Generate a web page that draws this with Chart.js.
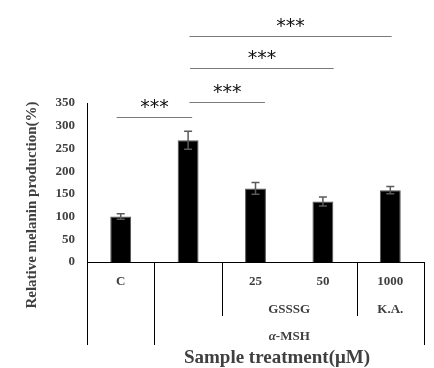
<!DOCTYPE html>
<html>
<head>
<meta charset="utf-8">
<script src="https://cdn.jsdelivr.net/npm/chart.js@4"></script>
<style>
  body { margin: 0; background: #fff; }
  #wrap { width: 434px; height: 368px; }
</style>
</head>
<body>
<div id="wrap"><canvas id="chart"></canvas></div>
<script>
// data
const groups = ['C', 'α-MSH', 'α-MSH + GSSSG 25', 'α-MSH + GSSSG 50', 'α-MSH + K.A. 1000'];
const doseLabels = ['C', '', '25', '50', '1000'];
const melanin = [100, 268, 162, 133, 158];
const errors = [6, 20, 13, 10, 8];
const yTicks = [0, 50, 100, 150, 200, 250, 300, 350];
// rows below the axis: [text, first index, last index]
const treatmentRow = [['GSSSG', 2, 3], ['K.A.', 4, 4]];
const inducerRow = [['α-MSH', 1, 4]];
// separators: [boundary index, depth]
const separators = [[-0.5, 3], [0.5, 3], [1.5, 2], [3.5, 2], [4.5, 3]];
// significance: [from index, to index, level in %]
const brackets = [[-0.06, 1.06, 319], [1.02, 2.14, 353], [1.03, 3.16, 428], [1.02, 4.02, 497]];

const SERIF = 'Liberation Serif';
const TEXT = '#404040';

const extras = {
  id: 'extras',
  afterDatasetsDraw(chart) {
    const { ctx, scales: { x, y } } = chart;
    // error bars
    ctx.save();
    ctx.strokeStyle = '#5a5a5a';
    ctx.lineWidth = 1.5;
    melanin.forEach((v, i) => {
      const px = x.getPixelForValue(i);
      const top = y.getPixelForValue(v + errors[i]);
      const bot = y.getPixelForValue(v - errors[i]);
      ctx.beginPath();
      ctx.moveTo(px, top); ctx.lineTo(px, bot);
      ctx.moveTo(px - 4, top); ctx.lineTo(px + 4, top);
      ctx.moveTo(px - 4, bot); ctx.lineTo(px + 4, bot);
      ctx.stroke();
    });
    ctx.restore();
  },
  afterDraw(chart) {
    const { ctx, chartArea, scales: { x, y } } = chart;
    const base = chartArea.bottom;
    ctx.save();

    // x axis line + separators
    ctx.strokeStyle = '#000';
    ctx.lineWidth = 1;
    ctx.beginPath();
    ctx.moveTo(chartArea.left, base + 0.5);
    ctx.lineTo(chartArea.right, base + 0.5);
    separators.forEach(([b, depth]) => {
      const px = Math.round(x.getPixelForValue(b)) + 0.5;
      ctx.moveTo(px, base);
      ctx.lineTo(px, base + (depth === 3 ? 83 : 54));
    });
    ctx.stroke();

    // category rows
    ctx.fillStyle = TEXT;
    ctx.textAlign = 'center';
    ctx.textBaseline = 'middle';
    ctx.font = `bold 13px "${SERIF}"`;
    doseLabels.forEach((t, i) => ctx.fillText(t, x.getPixelForValue(i), base + 20));
    treatmentRow.forEach(([t, a, b]) => {
      ctx.fillText(t, (x.getPixelForValue(a) + x.getPixelForValue(b)) / 2, base + 48);
    });
    inducerRow.forEach(([t, a, b]) => {
      const cx = (x.getPixelForValue(a) + x.getPixelForValue(b)) / 2;
      const greek = t.slice(0, 1), rest = t.slice(1);
      ctx.font = `italic bold 13px "${SERIF}"`;
      const wg = ctx.measureText(greek).width;
      ctx.font = `bold 13px "${SERIF}"`;
      const wr = ctx.measureText(rest).width;
      ctx.textAlign = 'left';
      const sx = cx - (wg + wr) / 2;
      ctx.font = `italic bold 13px "${SERIF}"`;
      ctx.fillText(greek, sx, base + 75);
      ctx.font = `bold 13px "${SERIF}"`;
      ctx.fillText(rest, sx + wg, base + 75);
      ctx.textAlign = 'center';
    });

    // axis titles
    ctx.font = `bold 19px "${SERIF}"`;
    ctx.fillText('Sample treatment(μM)', 277, base + 96);
    ctx.save();
    ctx.translate(32, 205);
    ctx.rotate(-Math.PI / 2);
    ctx.font = `bold 15px "${SERIF}"`;
    ctx.fillText('Relative melanin production(%)', 0, 0);
    ctx.restore();

    // significance brackets
    brackets.forEach(([a, b, lvl]) => {
      const x1 = x.getPixelForValue(a), x2 = x.getPixelForValue(b);
      const py = Math.round(y.getPixelForValue(lvl)) + 0.5;
      ctx.strokeStyle = '#7a7a7a';
      ctx.lineWidth = 1;
      ctx.beginPath();
      ctx.moveTo(x1, py); ctx.lineTo(x2, py);
      ctx.stroke();
      ctx.fillStyle = '#111';
      ctx.font = '19px "DejaVu Sans"';
      ctx.textBaseline = 'alphabetic';
      ctx.fillText('***', (x1 + x2) / 2, py - 5);
    });
    ctx.restore();
  }
};

new Chart(document.getElementById('chart'), {
  type: 'bar',
  data: {
    labels: groups,
    datasets: [{
      data: melanin,
      backgroundColor: '#000',
      borderColor: '#555',
      borderWidth: 1,
      categoryPercentage: 1,
      barPercentage: 0.31
    }]
  },
  options: {
    responsive: true,
    maintainAspectRatio: false,
    animation: false,
    layout: { padding: { top: 103, right: 10, bottom: 106, left: 0 } },
    plugins: { legend: { display: false }, tooltip: { enabled: false } },
    scales: {
      x: { display: false },
      y: {
        min: 0,
        max: 350,
        afterFit: s => { s.width = 87; },
        afterBuildTicks: s => { s.ticks = yTicks.map(v => ({ value: v })); },
        grid: { display: false, drawTicks: false },
        border: { display: true, color: '#000', width: 1 },
        ticks: {
          padding: 12,
          color: TEXT,
          font: { family: SERIF, size: 13, weight: 'bold' }
        }
      }
    }
  },
  plugins: [extras]
});
</script>
</body>
</html>
